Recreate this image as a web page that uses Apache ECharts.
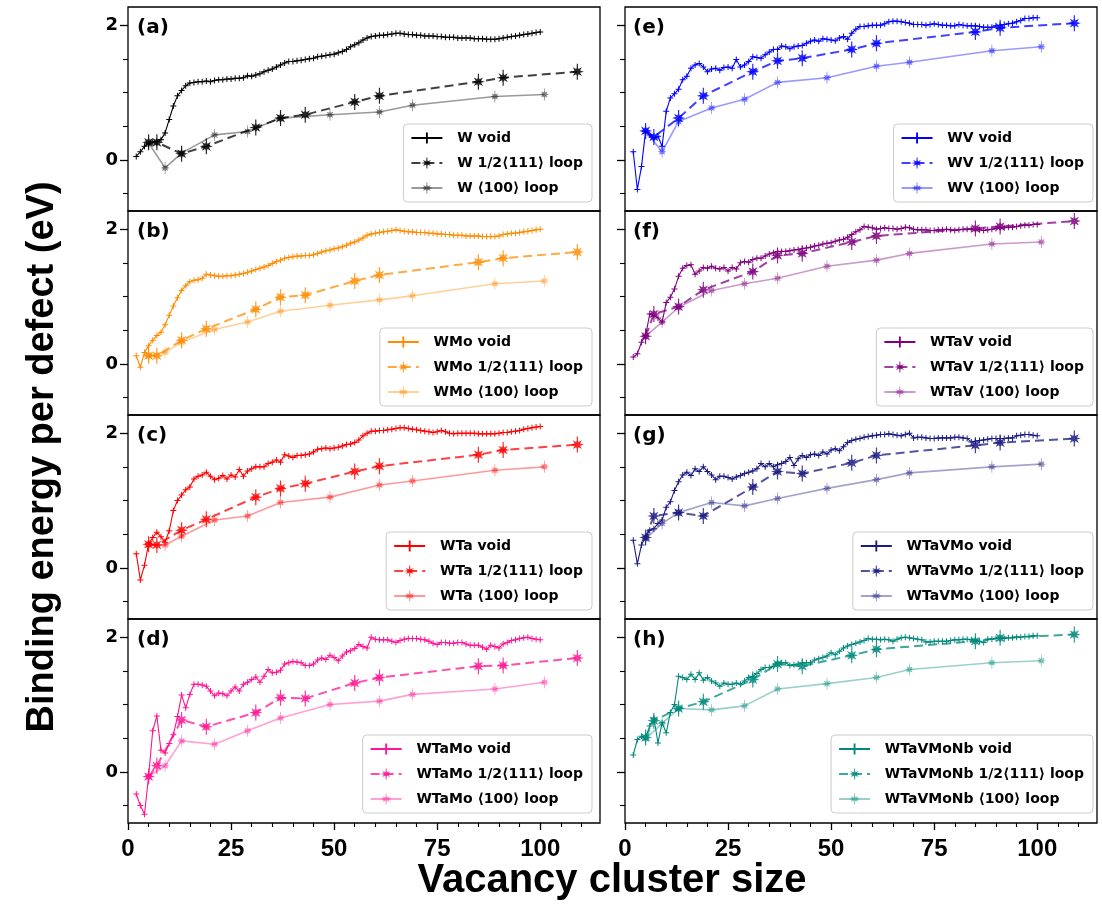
<!DOCTYPE html>
<html>
<head>
<meta charset="utf-8">
<script src="https://cdn.jsdelivr.net/npm/echarts@6/dist/echarts.min.js"></script>
<style>
html,body{margin:0;padding:0;background:#fff;}
#chart{width:1102px;height:916px;}
</style>
</head>
<body>
<div id="chart"></div>
<script>
// ---------------- DATA ----------------
const ALLOYS = ['W', 'WMo', 'WTa', 'WTaMo', 'WV', 'WTaV', 'WTaVMo', 'WTaVMoNb'];
const PANEL_LABELS = ['(a)', '(b)', '(c)', '(d)', '(e)', '(f)', '(g)', '(h)'];
const X_TICKS = [0, 25, 50, 75, 100];
const Y_TICKS = [0, 2];
const X_TITLE = 'Vacancy cluster size';
const Y_TITLE = 'Binding energy per defect (eV)';

const VOID_SIZES = [
  2, 3, 4, 5, 6, 7, 8, 9, 10, 11,
  12, 13, 14, 15, 16, 17, 18, 19, 20, 21,
  22, 23, 24, 25, 26, 27, 28, 29, 30, 31,
  32, 33, 34, 35, 36, 37, 38, 39, 40, 41,
  42, 43, 44, 45, 46, 47, 48, 49, 50, 51,
  52, 53, 54, 55, 56, 57, 58, 59, 60, 61,
  62, 63, 64, 65, 66, 67, 68, 69, 70, 71,
  72, 73, 74, 75, 76, 77, 78, 79, 80, 81,
  82, 83, 84, 85, 86, 87, 88, 89, 90, 91,
  92, 93, 94, 95, 96, 97, 98, 99, 100
];
const LOOP111_SIZES = [5, 7, 13, 19, 31, 37, 43, 55, 61, 85, 91, 109];
const LOOP100_SIZES = [5, 9, 13, 21, 29, 37, 49, 61, 69, 89, 101];

const VOID_W = [
  0.05,0.12,0.20,0.24,0.26,0.27,0.30,0.40,0.60,0.80,
  0.95,1.03,1.10,1.14,1.15,1.16,1.16,1.17,1.16,1.18,
  1.19,1.19,1.20,1.20,1.21,1.21,1.22,1.25,1.24,1.26,
  1.28,1.31,1.33,1.35,1.38,1.41,1.44,1.46,1.46,1.47,
  1.48,1.49,1.50,1.51,1.53,1.54,1.55,1.56,1.57,1.59,
  1.61,1.64,1.68,1.71,1.74,1.78,1.81,1.83,1.84,1.85,
  1.85,1.86,1.87,1.88,1.88,1.87,1.86,1.86,1.85,1.85,
  1.84,1.84,1.84,1.83,1.83,1.82,1.82,1.82,1.81,1.81,
  1.81,1.81,1.80,1.80,1.80,1.79,1.79,1.79,1.80,1.81,
  1.82,1.83,1.84,1.85,1.86,1.87,1.88,1.89,1.90
];
const VOID_WMo = [
  0.12,-0.05,0.17,0.27,0.35,0.42,0.47,0.58,0.72,0.86,
  0.98,1.09,1.16,1.22,1.24,1.25,1.27,1.33,1.32,1.31,
  1.30,1.30,1.31,1.31,1.32,1.33,1.34,1.36,1.38,1.40,
  1.42,1.44,1.46,1.49,1.52,1.54,1.57,1.58,1.59,1.60,
  1.60,1.61,1.61,1.62,1.64,1.66,1.68,1.69,1.71,1.72,
  1.74,1.76,1.79,1.81,1.84,1.87,1.91,1.93,1.94,1.95,
  1.96,1.97,1.98,1.99,1.98,1.97,1.96,1.96,1.95,1.95,
  1.95,1.94,1.94,1.93,1.93,1.92,1.92,1.91,1.91,1.91,
  1.90,1.90,1.90,1.90,1.89,1.89,1.89,1.89,1.90,1.92,
  1.93,1.94,1.94,1.95,1.96,1.97,1.98,1.99,2.00
];
const VOID_WTa = [
  0.21,-0.18,0.04,0.36,0.45,0.53,0.46,0.38,0.55,0.85,
  1.00,1.08,1.16,1.20,1.32,1.36,1.38,1.42,1.36,1.31,
  1.33,1.37,1.32,1.38,1.35,1.46,1.36,1.44,1.47,1.50,
  1.50,1.50,1.55,1.57,1.60,1.57,1.68,1.66,1.64,1.67,
  1.67,1.68,1.69,1.72,1.76,1.77,1.78,1.77,1.78,1.79,
  1.81,1.83,1.84,1.86,1.90,1.96,2.00,2.03,2.03,2.04,
  2.04,2.05,2.06,2.07,2.08,2.08,2.07,2.06,2.05,2.04,
  2.03,2.02,2.01,2.02,2.04,2.02,2.00,1.99,2.00,2.00,
  2.00,2.00,2.00,1.99,1.99,1.99,1.99,1.99,2.00,2.01,
  2.01,2.02,2.03,2.04,2.06,2.07,2.08,2.09,2.10
];
const VOID_WTaMo = [
  -0.33,-0.50,-0.63,-0.06,0.61,0.83,0.32,0.28,0.42,0.55,
  0.82,1.14,0.95,1.15,1.30,1.30,1.29,1.27,1.20,1.13,
  1.17,1.16,1.13,1.20,1.26,1.20,1.30,1.33,1.37,1.41,
  1.33,1.42,1.52,1.47,1.48,1.51,1.60,1.62,1.64,1.63,
  1.62,1.58,1.58,1.60,1.66,1.69,1.67,1.73,1.70,1.65,
  1.72,1.78,1.80,1.83,1.89,1.86,1.84,2.00,1.97,1.96,
  1.96,1.96,1.94,1.92,1.95,1.97,1.98,1.98,1.98,1.97,
  1.96,1.94,1.91,1.89,1.92,1.92,1.91,1.91,1.92,1.92,
  1.90,1.88,1.88,1.88,1.85,1.82,1.88,1.86,1.84,1.90,
  1.92,1.95,1.96,1.98,1.99,2.00,1.98,1.97,1.96
];
const VOID_WV = [
  0.12,-0.44,-0.10,0.43,0.37,0.32,0.35,0.20,0.72,0.92,
  0.98,1.05,1.19,1.24,1.36,1.41,1.43,1.38,1.31,1.35,
  1.36,1.33,1.37,1.38,1.36,1.49,1.38,1.41,1.46,1.53,
  1.52,1.51,1.56,1.60,1.64,1.64,1.69,1.68,1.65,1.68,
  1.69,1.70,1.73,1.76,1.78,1.76,1.80,1.79,1.78,1.77,
  1.81,1.83,1.79,1.88,1.94,1.98,1.98,1.99,2.00,2.00,
  2.00,2.02,2.05,2.06,2.06,2.05,2.04,2.03,2.01,2.01,
  2.01,2.00,2.01,2.02,2.01,2.00,2.00,1.99,1.99,2.01,
  2.00,1.99,1.99,1.99,1.98,1.97,1.97,1.97,1.99,2.00,
  2.01,2.02,2.03,2.05,2.07,2.10,2.10,2.11,2.11
];
const VOID_WTaV = [
  0.10,0.15,0.32,0.42,0.74,0.72,0.68,0.62,0.91,0.99,
  1.11,1.30,1.42,1.46,1.47,1.33,1.38,1.43,1.42,1.45,
  1.42,1.41,1.43,1.38,1.43,1.41,1.50,1.52,1.51,1.55,
  1.57,1.57,1.60,1.63,1.65,1.67,1.67,1.67,1.68,1.69,
  1.70,1.71,1.72,1.73,1.75,1.76,1.78,1.79,1.80,1.82,
  1.84,1.85,1.88,1.92,1.96,1.99,2.04,2.03,2.02,2.00,
  2.01,2.02,2.01,2.01,2.00,2.01,2.03,2.02,2.00,1.99,
  1.99,1.99,1.98,1.98,1.99,1.99,2.00,1.99,1.98,1.99,
  2.00,2.00,2.00,2.00,1.99,1.98,1.99,2.00,2.01,2.02,
  2.02,2.03,2.03,2.04,2.05,2.06,2.06,2.07,2.07
];
const VOID_WTaVMo = [
  0.41,0.06,0.34,0.46,0.56,0.58,0.66,0.71,0.90,0.98,
  1.15,1.28,1.38,1.42,1.37,1.47,1.43,1.50,1.43,1.38,
  1.31,1.36,1.36,1.34,1.32,1.35,1.37,1.40,1.42,1.44,
  1.47,1.55,1.50,1.55,1.50,1.53,1.55,1.58,1.64,1.52,
  1.62,1.67,1.64,1.68,1.69,1.67,1.72,1.69,1.75,1.77,
  1.74,1.80,1.86,1.89,1.91,1.92,1.94,1.95,1.96,1.97,
  1.98,1.98,1.99,1.98,1.97,1.96,1.98,2.00,1.93,1.94,
  1.94,1.93,1.92,1.92,1.93,1.93,1.93,1.93,1.94,1.94,
  1.93,1.92,1.87,1.88,1.89,1.90,1.91,1.92,1.92,1.92,
  1.92,1.93,1.93,1.96,1.97,1.98,1.98,1.97,1.96
];
const VOID_WTaVMoNb = [
  0.25,0.48,0.53,0.51,0.68,0.80,0.43,0.73,0.58,0.88,
  1.00,1.42,1.40,1.37,1.45,1.37,1.47,1.36,1.40,1.35,
  1.32,1.27,1.32,1.30,1.30,1.32,1.30,1.35,1.40,1.42,
  1.46,1.52,1.55,1.55,1.57,1.62,1.62,1.62,1.58,1.59,
  1.60,1.62,1.62,1.62,1.66,1.68,1.70,1.72,1.77,1.74,
  1.79,1.84,1.87,1.89,1.91,1.93,1.95,1.98,1.97,1.97,
  1.96,1.97,1.96,1.94,1.97,1.99,2.00,1.99,1.98,1.97,
  1.96,1.93,1.93,1.94,1.94,1.94,1.94,1.95,1.96,1.96,
  1.97,1.97,1.96,1.96,1.94,1.92,1.97,1.97,1.98,1.98,
  1.98,1.99,1.99,2.00,2.00,2.01,2.01,2.02,2.02
];

const L111_W        = [0.26,0.26,0.09,0.20,0.48,0.62,0.67,0.86,0.95,1.16,1.22,1.31];
const L111_WMo      = [0.12,0.12,0.35,0.52,0.81,0.99,1.02,1.23,1.32,1.51,1.57,1.66];
const L111_WTa      = [0.35,0.34,0.56,0.72,1.05,1.18,1.25,1.43,1.51,1.68,1.75,1.83];
const L111_WTaMo    = [-0.07,0.09,0.77,0.67,0.88,1.10,1.09,1.32,1.40,1.57,1.58,1.69];
const L111_WV       = [0.43,0.34,0.62,0.95,1.31,1.47,1.51,1.64,1.73,1.90,1.96,2.03];
const L111_WTaV     = [0.41,0.74,0.85,1.10,1.37,1.61,1.64,1.81,1.90,2.01,2.04,2.12];
const L111_WTaVMo   = [0.45,0.77,0.82,0.77,1.20,1.43,1.40,1.56,1.67,1.82,1.86,1.92];
const L111_WTaVMoNb = [0.51,0.76,0.94,1.04,1.37,1.60,1.57,1.73,1.82,1.94,1.99,2.04];

const L100_W        = [0.25,-0.12,0.10,0.37,0.42,0.62,0.67,0.71,0.81,0.94,0.97];
const L100_WMo      = [0.12,0.17,0.32,0.51,0.62,0.78,0.87,0.95,1.01,1.19,1.23];
const L100_WTa      = [0.34,0.34,0.47,0.71,0.77,0.97,1.05,1.23,1.29,1.45,1.50];
const L100_WTaMo    = [-0.07,0.09,0.46,0.41,0.61,0.80,1.00,1.05,1.15,1.23,1.33];
const L100_WV       = [0.43,0.12,0.57,0.77,0.90,1.15,1.22,1.39,1.45,1.62,1.68];
const L100_WTaV     = [0.41,0.62,0.84,1.09,1.19,1.27,1.45,1.54,1.64,1.78,1.81];
const L100_WTaVMo   = [0.43,0.66,0.82,0.97,0.92,1.03,1.18,1.31,1.41,1.50,1.54];
const L100_WTaVMoNb = [0.49,0.72,0.94,0.92,0.98,1.23,1.31,1.40,1.52,1.62,1.65];

// ---------------- STYLE / LAYOUT ----------------
const COLORS = ['#000000', '#ff8c00', '#ff0000', '#ff1493', '#0000ff', '#800080', '#1a1a80', '#00897b'];
const VOIDS = [VOID_W, VOID_WMo, VOID_WTa, VOID_WTaMo, VOID_WV, VOID_WTaV, VOID_WTaVMo, VOID_WTaVMoNb];
const L111S = [L111_W, L111_WMo, L111_WTa, L111_WTaMo, L111_WV, L111_WTaV, L111_WTaVMo, L111_WTaVMoNb];
const L100S = [L100_W, L100_WMo, L100_WTa, L100_WTaMo, L100_WV, L100_WTaV, L100_WTaVMo, L100_WTaVMoNb];

const PLUS = 'path://M-0.5,-3 L0.5,-3 L0.5,-0.5 L3,-0.5 L3,0.5 L0.5,0.5 L0.5,3 L-0.5,3 L-0.5,0.5 L-3,0.5 L-3,-0.5 L-0.5,-0.5 Z';
const STAR8 = 'path://M0,-10 L1.72,-4.16 L7.07,-7.07 L4.16,-1.72 L10,0 L4.16,1.72 L7.07,7.07 L1.72,4.16 L0,10 L-1.72,4.16 L-7.07,7.07 L-4.16,1.72 L-10,0 L-4.16,-1.72 L-7.07,-7.07 L-1.72,-4.16 Z M-0.9,-13 L0.9,-13 L0.9,13 L-0.9,13 Z';
const STARF = 'path://M0,-10 L1.91,-4.62 L7.07,-7.07 L4.62,-1.91 L10,0 L4.62,1.91 L7.07,7.07 L1.91,4.62 L0,10 L-1.91,4.62 L-7.07,7.07 L-4.62,1.91 L-10,0 L-4.62,-1.91 L-7.07,-7.07 L-1.91,-4.62 Z M-0.8,-14 L0.8,-14 L0.8,14 L-0.8,14 Z';

const GRID_LEFT = [128, 625];
const GRID_TOP0 = 7, GRID_H = 204, GRID_W = 472;
const X_MIN = 0, X_MAX = 114.5, Y_MIN = -0.76, Y_MAX = 2.27;
const LEG_BOTTOM = [714, 510, 306, 103];
const LEG_RIGHT = [510, 9];

const grids = [], xAxes = [], yAxes = [], series = [], legends = [], graphics = [];
const minorX = [5,10,15,20,30,35,40,45,55,60,65,70,80,85,90,95,105,110];
const minorY = [-0.5, 0.5, 1, 1.5];

for (let i = 0; i < 8; i++) {
  const col = i < 4 ? 0 : 1;
  const row = i % 4;
  const top = GRID_TOP0 + row * GRID_H;
  grids.push({left: GRID_LEFT[col], top: top, width: GRID_W, height: GRID_H,
    show: true, borderColor: '#000', borderWidth: 1.3, backgroundColor: 'transparent', containLabel: false});
  xAxes.push({type: 'value', gridIndex: i, min: X_MIN, max: X_MAX, position: 'bottom',
    axisLine: {show: false, onZero: false}, splitLine: {show: false},
    axisTick: {show: row === 3, customValues: X_TICKS, length: 7, lineStyle: {color: '#000', width: 1.3}},
    axisLabel: {show: row === 3, customValues: X_TICKS, margin: 14, color: '#000',
      fontFamily: 'Liberation Sans', fontWeight: 'bold', fontSize: 24}});
  yAxes.push({type: 'value', gridIndex: i, min: Y_MIN, max: Y_MAX, position: 'left',
    axisLine: {show: false, onZero: false}, splitLine: {show: false},
    axisTick: {show: true, customValues: Y_TICKS, length: 8, lineStyle: {color: '#000', width: 1.3}},
    axisLabel: {show: col === 0, customValues: Y_TICKS, margin: 10, color: '#000',
      fontFamily: 'DejaVu Sans', fontWeight: 'bold', fontSize: 18}});
  const alloy = ALLOYS[i];
  const c = COLORS[i];
  const names = [alloy + ' void', alloy + ' 1/2\u27E8111\u27E9 loop', alloy + ' \u27E8100\u27E9 loop'];
  series.push({name: names[0], type: 'line', xAxisIndex: i, yAxisIndex: i,
    data: VOID_SIZES.map((x, k) => [x, VOIDS[i][k]]),
    symbol: PLUS, symbolSize: 6, showSymbol: true,
    lineStyle: {color: c, width: 1.1}, itemStyle: {color: c}, z: 2});
  series.push({name: names[1], type: 'line', xAxisIndex: i, yAxisIndex: i,
    data: LOOP111_SIZES.map((x, k) => [x, L111S[i][k]]),
    symbol: STAR8, symbolSize: [13, 16],
    lineStyle: {color: c, width: 2, type: [9, 5], opacity: 0.75}, itemStyle: {color: c, opacity: 0.85}, z: 3});
  series.push({name: names[2], type: 'line', xAxisIndex: i, yAxisIndex: i,
    data: LOOP100_SIZES.map((x, k) => [x, L100S[i][k]]),
    symbol: STARF, symbolSize: [9, 12],
    lineStyle: {color: c, width: 1.6, opacity: 0.4}, itemStyle: {color: c, opacity: 0.5}, z: 4});
  legends.push({orient: 'vertical', right: LEG_RIGHT[col], bottom: LEG_BOTTOM[row], data: names,
    itemWidth: 31, itemHeight: 14, itemGap: 11, padding: [7, 9, 7, 7], align: 'left',
    backgroundColor: 'rgba(255,255,255,0.85)', borderColor: '#cccccc', borderWidth: 1, borderRadius: 4,
    selectedMode: false,
    formatter: name => '  ' + name,
    textStyle: {fontFamily: 'DejaVu Sans', fontWeight: 'bold', fontSize: 14, color: '#000'}});
  graphics.push({type: 'text', x: col ? 633 : 137, y: top + 21,
    style: {text: PANEL_LABELS[i], font: 'bold 20px "DejaVu Sans"', fill: '#000', verticalAlign: 'middle'}});
}
// minor ticks (extra axes)
for (let i = 0; i < 8; i++) {
  yAxes.push({type: 'value', gridIndex: i, min: Y_MIN, max: Y_MAX, position: 'left',
    axisLine: {show: false, onZero: false}, splitLine: {show: false}, axisLabel: {show: false},
    axisTick: {show: true, customValues: minorY, length: 5, lineStyle: {color: '#000', width: 1.1}}});
}
[3, 7].forEach(i => {
  xAxes.push({type: 'value', gridIndex: i, min: X_MIN, max: X_MAX, position: 'bottom',
    axisLine: {show: false, onZero: false}, splitLine: {show: false}, axisLabel: {show: false},
    axisTick: {show: true, customValues: minorX, length: 4, lineStyle: {color: '#000', width: 1.1}}});
});

graphics.push({type: 'text', x: 43, y: 457, rotation: Math.PI / 2,
  style: {text: Y_TITLE, font: 'bold 38px "Liberation Sans"', fill: '#000', align: 'center', verticalAlign: 'middle'}});
graphics.push({type: 'text', x: 612, y: 881,
  style: {text: X_TITLE, font: 'bold 40px "Liberation Sans"', fill: '#000', align: 'center', verticalAlign: 'middle'}});

const chart = echarts.init(document.getElementById('chart'), null, {renderer: 'canvas'});
chart.setOption({
  animation: false,
  backgroundColor: '#fff',
  grid: grids, xAxis: xAxes, yAxis: yAxes, series: series, legend: legends, graphic: graphics
});
</script>
</body>
</html>
